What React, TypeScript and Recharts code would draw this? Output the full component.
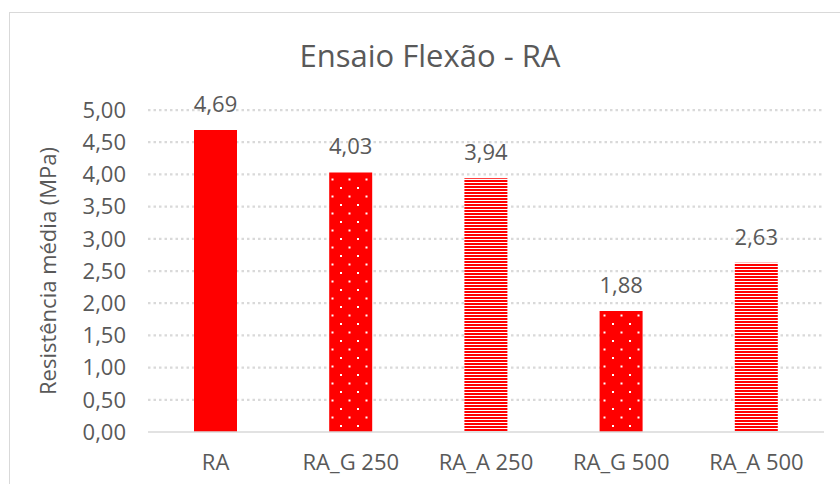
import { Bar, BarChart, CartesianGrid, Cell, LabelList, XAxis, YAxis } from "recharts";

const categories = ["RA", "RA_G 250", "RA_A 250", "RA_G 500", "RA_A 500"];
const resistencia = [4.69, 4.03, 3.94, 1.88, 2.63];
const yTicks = [0, 0.5, 1, 1.5, 2, 2.5, 3, 3.5, 4, 4.5, 5];

const barFills = ["#ff0000", "url(#pontos)", "url(#listras)", "url(#pontos)", "url(#listras)"];

const data = categories.map((label, i) => ({ label, valor: resistencia[i] }));

const fmt = (v: number) => Number(v).toFixed(2).replace(".", ",");
const TXT = "#595959";
const FONT = "'Open Sans', sans-serif";
const FS = 22;

function YLabel({ viewBox }: any) {
  const cy = viewBox.y + viewBox.height / 2;
  return (
    <text
      x={47}
      y={cy}
      transform={`rotate(-90, 47, ${cy})`}
      textAnchor="middle"
      dominantBaseline="central"
      fill={TXT}
      fontSize={FS}
      fontFamily={FONT}
    >
      Resistência média (MPa)
    </text>
  );
}

export default function App() {
  return (
    <div
      style={{
        position: "absolute",
        left: 0,
        top: 0,
        width: 840,
        height: 484,
        overflow: "hidden",
        background: "#fff",
        fontFamily: FONT,
      }}
    >
      <div
        style={{
          position: "absolute",
          left: 9,
          top: 12,
          width: 900,
          height: 600,
          border: "1.3px solid #d9d9d9",
        }}
      />
      <div
        style={{
          position: "absolute",
          left: 0,
          width: 860,
          top: 37,
          textAlign: "center",
          fontSize: 31,
          color: TXT,
          lineHeight: "36px",
        }}
      >
        Ensaio Flexão - RA
      </div>
      <div style={{ position: "absolute", left: 0, top: 0 }}>
        <BarChart width={840} height={484} data={data} margin={{ top: 110, right: 16, left: 0, bottom: 0 }}>
          <defs>
            <pattern id="pontos" width={17} height={17} patternUnits="userSpaceOnUse">
              <rect width={17} height={17} fill="#ff0000" />
              <rect x={0} y={0} width={2} height={2} fill="#ffffff" />
              <rect x={8.5} y={8.5} width={2} height={2} fill="#ffffff" />
            </pattern>
            <pattern id="listras" width={3} height={3} patternUnits="userSpaceOnUse">
              <rect width={3} height={3} fill="#ff0000" />
              <rect x={0} y={2} width={3} height={1} fill="#ffffff" />
            </pattern>
          </defs>
          <CartesianGrid
            vertical={false}
            stroke="#d9d9d9"
            strokeWidth={2.25}
            strokeDasharray="2.5 3"
            horizontalValues={yTicks.slice(1)}
          />
          <XAxis
            dataKey="label"
            height={52}
            tickLine={false}
            axisLine={{ stroke: "#d9d9d9", strokeWidth: 1.3 }}
            tickMargin={16}
            tick={{ fontSize: FS, fill: TXT, fontFamily: FONT }}
            interval={0}
          />
          <YAxis
            width={148}
            domain={[0, 5]}
            ticks={yTicks}
            interval={0}
            tickFormatter={fmt}
            axisLine={false}
            tickLine={false}
            tickMargin={16}
            tick={{ fontSize: FS, fill: TXT, fontFamily: FONT }}
            label={<YLabel />}
          />
          <Bar dataKey="valor" barSize={43} isAnimationActive={false}>
            {data.map((d, i) => (
              <Cell key={d.label} fill={barFills[i]} />
            ))}
            <LabelList
              dataKey="valor"
              position="top"
              offset={18}
              formatter={(v: any) => fmt(v)}
              style={{ fontSize: FS, fill: TXT, fontFamily: FONT }}
            />
          </Bar>
        </BarChart>
      </div>
    </div>
  );
}
